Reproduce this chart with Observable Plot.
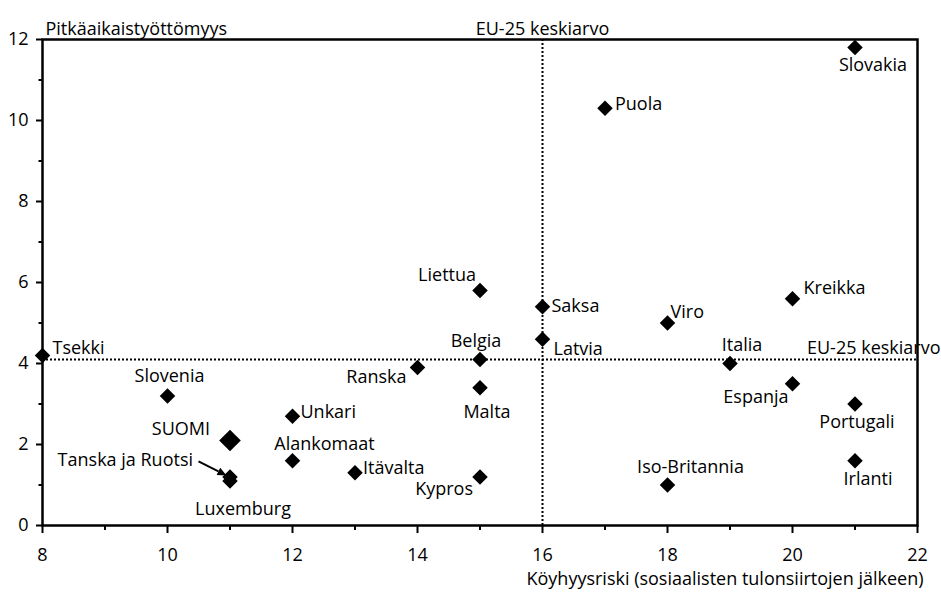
<!DOCTYPE html>
<html>
<head>
<meta charset="utf-8">
<script src="https://cdn.jsdelivr.net/npm/d3@7"></script>
<script src="https://cdn.jsdelivr.net/npm/@observablehq/plot@0.6"></script>
<style>
  html, body { margin: 0; padding: 0; background: #fff; }
  #chart svg { display: block; }
</style>
</head>
<body>
<div id="chart"></div>
<script>
// ---- data ----
const countries = ["Tsekki","Slovenia","SUOMI","Tanska ja Ruotsi","Luxemburg","Unkari","Alankomaat","Itävalta","Ranska","Liettua","Belgia","Malta","Kypros","Saksa","Latvia","Puola","Viro","Iso-Britannia","Italia","Kreikka","Espanja","Slovakia","Portugali","Irlanti"];
const poverty   = [8, 10, 11, 11, 11, 12, 12, 13, 14, 15, 15, 15, 15, 16, 16, 17, 18, 18, 19, 20, 20, 21, 21, 21];
const ltUnemp   = [4.2, 3.2, 2.1, 1.2, 1.1, 2.7, 1.6, 1.3, 3.9, 5.8, 4.1, 3.4, 1.2, 5.4, 4.6, 10.3, 5.0, 1.0, 4.0, 5.6, 3.5, 11.8, 3.0, 1.6];
const highlight = "SUOMI";
const euPoverty = 16;
const euUnemp = 4.1;
const euLabel = "EU-25 keskiarvo";
const xTicks = [8, 10, 12, 14, 16, 18, 20, 22];
const xMinor = [9, 11, 13, 15, 17, 19, 21];
const yTicks = [0, 2, 4, 6, 8, 10, 12];
const yMinor = [1, 3, 5, 7, 9, 11];
const xTitle = "Köyhyysriski (sosiaalisten tulonsiirtojen jälkeen)";
const yTitle = "Pitkäaikaistyöttömyys";
const arrowTo = "Tanska ja Ruotsi";

// ---- label placement (presentation only) ----
const place = {
  "Tsekki":           {dx: 10, dy: -7,  a: "start"},
  "Slovenia":         {dx: 2,  dy: -20, a: "middle"},
  "SUOMI":            {dx: -20, dy: -11, a: "end"},
  "Tanska ja Ruotsi": {dx: -37, dy: -17, a: "end"},
  "Luxemburg":        {dx: 13, dy: 28,  a: "middle"},
  "Unkari":           {dx: 8,  dy: -4,  a: "start"},
  "Alankomaat":       {dx: 32, dy: -16, a: "middle"},
  "Itävalta":         {dx: 8,  dy: -5,  a: "start"},
  "Ranska":           {dx: -11, dy: 10, a: "end"},
  "Liettua":          {dx: -4, dy: -15, a: "end"},
  "Belgia":           {dx: -4, dy: -18, a: "middle"},
  "Malta":            {dx: 7,  dy: 24,  a: "middle"},
  "Kypros":           {dx: -7, dy: 12,  a: "end"},
  "Saksa":            {dx: 9,  dy: -1,  a: "start"},
  "Latvia":           {dx: 11, dy: 10,  a: "start"},
  "Puola":            {dx: 10, dy: -4,  a: "start"},
  "Viro":             {dx: 3,  dy: -11, a: "start"},
  "Iso-Britannia":    {dx: 23, dy: -18, a: "middle"},
  "Italia":           {dx: 12, dy: -18, a: "middle"},
  "Kreikka":          {dx: 11, dy: -10, a: "start"},
  "Espanja":          {dx: -4, dy: 13,  a: "end"},
  "Slovakia":         {dx: 18, dy: 18,  a: "middle"},
  "Portugali":        {dx: 2,  dy: 18,  a: "middle"},
  "Irlanti":          {dx: 13, dy: 19,  a: "middle"}
};

const idx = countries.map((_, i) => i);
const normal = idx.filter(i => countries[i] !== highlight);
const hi = idx.filter(i => countries[i] === highlight);
const FS = 18;

const labelMarks = idx.map(i => {
  const p = place[countries[i]];
  return Plot.text([i], {
    x: j => poverty[j], y: j => ltUnemp[j], text: j => countries[j],
    dx: p.dx, dy: p.dy, textAnchor: p.a, fontSize: FS, fill: "black"
  });
});

// arrow from "Tanska ja Ruotsi" label to its point, positioned via scales
const ai = countries.indexOf(arrowTo);
function arrowMark(index, scales) {
  const px = scales.x(poverty[ai]), py = scales.y(ltUnemp[ai]);
  const x1 = px - 31, y1 = py - 15, x2 = px - 3, y2 = py - 1;
  const g = d3.create("svg:g");
  const ang = Math.atan2(y2 - y1, x2 - x1);
  const L = 9, W = 4;
  const bx = x2 - L * Math.cos(ang), by = y2 - L * Math.sin(ang);
  g.append("line").attr("x1", x1).attr("y1", y1).attr("x2", bx).attr("y2", by)
    .attr("stroke", "black").attr("stroke-width", 2);
  g.append("path")
    .attr("d", `M${x2},${y2}L${bx - W * Math.sin(ang)},${by + W * Math.cos(ang)}L${bx + W * Math.sin(ang)},${by - W * Math.cos(ang)}Z`)
    .attr("fill", "black");
  return g.node();
}

const chart = Plot.plot({
  width: 941,
  height: 596,
  marginTop: 39,
  marginBottom: 71,
  marginLeft: 42,
  marginRight: 24,
  x: {domain: [8, 22]},
  y: {domain: [0, 12]},
  style: {fontFamily: "'Open Sans', 'Liberation Sans', sans-serif", fontSize: "18px", color: "black", background: "white"},
  marks: [
    Plot.ruleX([euPoverty], {stroke: "black", strokeWidth: 2, strokeDasharray: "2,2"}),
    Plot.ruleY([euUnemp], {stroke: "black", strokeWidth: 2, strokeDasharray: "2,2"}),
    Plot.frame({stroke: "black", strokeWidth: 2.5}),
    Plot.axisX(xTicks, {tickSize: 8, tickPadding: 15, strokeWidth: 2, fontSize: FS, label: null}),
    Plot.axisX(xMinor, {tickSize: 5, strokeWidth: 2, tickFormat: () => "", label: null}),
    Plot.axisY(yTicks, {tickSize: 6, tickPadding: 8, strokeWidth: 2, fontSize: FS, label: null}),
    Plot.axisY(yMinor, {tickSize: 3.5, strokeWidth: 2, tickFormat: () => "", label: null}),
    Plot.text([xTitle], {frameAnchor: "bottom-right", text: d => d, dx: 6, dy: 59, textAnchor: "end", fontSize: FS}),
    Plot.text([yTitle], {frameAnchor: "top-left", text: d => d, dx: 3, dy: -17, textAnchor: "start", fontSize: FS}),
    Plot.text([euPoverty], {x: d => d, frameAnchor: "top", text: () => euLabel, dy: -17, fontSize: FS}),
    Plot.text([euUnemp], {y: d => d, frameAnchor: "right", text: () => euLabel, dx: 23, dy: -11, textAnchor: "end", fontSize: FS}),
    Plot.dot(normal, {x: i => poverty[i], y: i => ltUnemp[i], symbol: "diamond2", r: 7, fill: "black", stroke: null}),
    Plot.dot(hi, {x: i => poverty[i], y: i => ltUnemp[i], symbol: "diamond2", r: 9.75, fill: "black", stroke: null}),
    ...labelMarks,
    arrowMark
  ]
});
document.getElementById("chart").appendChild(chart);
</script>
</body>
</html>
